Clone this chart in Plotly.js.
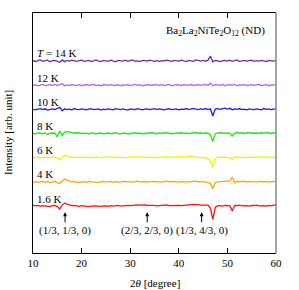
<!DOCTYPE html>
<html>
<head>
<meta charset="utf-8">
<script src="https://cdn.plot.ly/plotly-3.0.1.min.js"></script>
<style>html,body{margin:0;padding:0;background:#fff}#chart{width:299px;height:290px}</style>
</head>
<body>
<div id="chart"></div>
<script>
// 2theta grid (degrees), 0.5 deg step from 10 to 60
const twoTheta = [10,10.5,11,11.5,12,12.5,13,13.5,14,14.5,15,15.5,16,16.5,17,17.5,18,18.5,19,19.5,20,20.5,21,21.5,22,22.5,23,23.5,24,24.5,25,25.5,26,26.5,27,27.5,28,28.5,29,29.5,30,30.5,31,31.5,32,32.5,33,33.5,34,34.5,35,35.5,36,36.5,37,37.5,38,38.5,39,39.5,40,40.5,41,41.5,42,42.5,43,43.5,44,44.5,45,45.5,46,46.5,47,47.5,48,48.5,49,49.5,50,50.5,51,51.5,52,52.5,53,53.5,54,54.5,55,55.5,56,56.5,57,57.5,58,58.5,59,59.5,60];

const labels = ["<i>T</i> = 14 K","12 K","10 K","8 K","6 K","4 K","1.6 K"];
const offsets = [6,5,4,3,2,1,0];
const colors = ["#6a2ca8","#b060e8","#1f1fe0","#1ee81e","#f2f200","#ffa500","#ff1010"];

// intensity deviations (hundredths of the stacking offset)
const i14K = [2,-3,1,4,-2,0,3,-4,1,2, -2,-6,4,-3,2,-1,3,0,-2,1, 3,-2,0,2,-3,1,4,-1,-3,2, 0,-2,3,1,-4,2,0,-1,3,-2, 1,4,-2,0,-3,2,1,-1,3,0, -2,2,-3,1,0,3,-1,-2,2,1, -1,3,0,-3,2,1,-2,4,0,-1, 2,-2,3,20,-4,2,0,-3,1,2, -1,3,-2,0,4,-3,1,2,-1,0, 3,-2,1,-1,2,0,-3,2,1,-1, 2];
const i12K = [-1,2,-3,1,3,-2,0,2,-1,3, -2,2,6,-3,1,-2,3,0,-1,2, -3,1,2,-1,0,3,-2,1,-3,2, 1,-1,3,-2,0,2,-3,1,0,2, -2,1,3,-1,2,-3,0,2,1,-2, 3,0,-1,2,-2,1,3,-3,0,2, 1,-2,2,0,-1,3,-2,1,2,-1, 0,3,-2,8,-3,2,1,-1,3,-2, 0,2,-1,3,-3,1,0,2,-2,1, 2,-1,0,3,-2,1,2,-3,1,0, 3];
const i10K = [0,-2,1,3,-1,2,-3,0,2,-1, 3,8,-6,2,-1,1,-2,3,0,-1, 2,0,-2,1,3,-1,0,2,-3,1, -1,2,0,-2,3,1,-1,2,0,-3, 2,1,-1,3,0,-2,1,2,-1,0, 3,-1,2,0,-2,1,3,-1,0,2, -2,1,0,3,-1,2,4,1,-1,2, 0,3,-1,2,-28,1,3,0,2,5, 1,4,-2,2,0,3,-1,1,-2,2, 0,-1,2,1,-2,3,0,2,-1,1, 2];
const i8K = [1,-2,3,0,-1,2,-3,1,0,2, -14,10,-8,6,8,5,4,2,3,1, 2,0,1,-2,2,0,-1,1,2,-1, 0,2,-1,1,3,0,-2,1,0,2, -1,1,3,0,2,-1,1,0,2,3, 1,-1,2,0,3,1,2,0,-1,2, 1,3,0,2,-1,2,3,4,1,2, 0,2,1,-4,-33,0,2,3,1,2, 3,1,-10,2,4,1,3,0,2,4, 1,3,2,0,3,1,4,2,0,3, 2];
const i6K = [2,0,3,-1,2,1,-2,0,3,1, -2,-8,2,10,6,3,1,2,-1,2, 0,3,1,-1,2,0,3,1,-1,2, 1,0,2,3,-1,2,1,0,2,-1, 3,1,2,4,3,1,2,0,3,1, 2,0,1,3,2,4,1,2,3,1, 2,4,1,3,2,5,3,1,2,0, 1,-2,-4,-12,-40,-4,2,1,3,2, 1,0,-6,2,3,1,2,0,1,3, 2,0,3,1,2,4,1,3,0,2, 3];
const i4K = [-1,1,-2,0,2,-1,1,-3,0,2, -4,-6,3,12,6,2,0,1,-1,-3, 0,1,-2,2,0,-1,1,-2,0,2, -1,0,2,-2,1,0,-1,2,1,0, 2,-1,1,3,0,2,1,0,-1,2, 1,0,2,-1,1,3,0,1,2,-1, 0,2,1,-1,0,2,1,3,0,1, -1,0,-3,-6,-28,-3,0,1,2,0, 1,4,20,-4,2,0,1,3,-1,2, 0,1,-1,2,0,1,2,-1,1,0, 2];
const i1p6K = [4,1,3,-1,2,0,1,-2,2,3, -2,-12,4,12,8,4,2,3,1,-1, 2,0,1,-2,0,2,1,-1,0,2, 1,-1,2,0,1,3,0,2,1,3, 2,4,3,5,4,6,5,3,4,2, 3,1,2,4,3,5,2,3,1,2, 3,2,4,3,5,6,7,5,6,4, 5,3,4,-8,-55,-5,1,2,0,3, 2,1,-20,3,2,4,1,3,2,0, 3,2,4,1,3,2,0,3,1,2, 6];
const series = [i14K,i12K,i10K,i8K,i6K,i4K,i1p6K];

// reflection markers
const peakPos = [16.6, 33.5, 44.7];
const peakLabels = ["(1/3, 1/3, 0)", "(2/3, 2/3, 0)", "(1/3, 4/3, 0)"];

const FONT = "Liberation Serif, Times New Roman, serif";

const traces = series.map((dev, k) => ({
  x: twoTheta,
  y: dev.map(v => offsets[k] + v / 100),
  type: "scatter",
  mode: "lines",
  line: {color: colors[k], width: 1.3},
  hoverinfo: "skip",
  showlegend: false
}));

const annotations = [];
labels.forEach((t, k) => {
  annotations.push({
    x: 10, y: offsets[k] + 0.31, xref: "x", yref: "y",
    xanchor: "left", yanchor: "middle", xshift: 2,
    text: t, showarrow: false,
    font: {family: FONT, size: 11, color: "#000"}
  });
});
peakPos.forEach((p, k) => {
  annotations.push({
    x: p, y: -0.26, xref: "x", yref: "y",
    text: peakLabels[k], showarrow: true,
    ax: 0, ay: 18, arrowhead: 2, arrowsize: 0.8, arrowwidth: 1, arrowcolor: "#000",
    standoff: 0, startstandoff: 0,
    font: {family: FONT, size: 11, color: "#000"}
  });
});
annotations.push({
  x: 0.75, y: 1 - (31 - 13) / 240, xref: "paper", yref: "paper",
  text: "Ba<sub>2</sub>La<sub>2</sub>NiTe<sub>2</sub>O<sub>12</sub> (ND)",
  showarrow: false, xanchor: "center", yanchor: "middle",
  font: {family: FONT, size: 11, color: "#000"}
});
annotations.push({
  x: 0.5, y: 0, xref: "paper", yref: "paper", yshift: -30, yanchor: "middle",
  text: "2<i>θ</i> [degree]", showarrow: false,
  font: {family: FONT, size: 11, color: "#000"}
});
annotations.push({
  x: 0, y: 0.5, xref: "paper", yref: "paper", xshift: -25, xanchor: "center", yanchor: "middle",
  text: "Intensity [arb. unit]", textangle: -90, showarrow: false,
  font: {family: FONT, size: 11, color: "#000"}
});

const layout = {
  width: 299, height: 290,
  margin: {l: 33, r: 23, t: 13, b: 37},
  paper_bgcolor: "#fff", plot_bgcolor: "#fff",
  font: {family: FONT, size: 11, color: "#000"},
  xaxis: {
    range: [10, 60], dtick: 10, tick0: 10,
    ticks: "inside", ticklen: 5, tickwidth: 1, tickcolor: "#000",
    showline: true, linecolor: "#000", linewidth: 1, mirror: "ticks",
    showgrid: false, zeroline: false,
    tickfont: {family: FONT, size: 11, color: "#000"}
  },
  yaxis: {
    range: [-1.94, 7.98],
    showticklabels: false, ticks: "",
    showline: true, linecolor: "#000", linewidth: 1, mirror: false,
    showgrid: false, zeroline: false
  },
  shapes: [{
    type: "line", xref: "paper", yref: "paper", x0: 1, x1: 1, y0: 0, y1: 1,
    line: {color: "#8a8a8a", width: 1.5}
  }],
  annotations: annotations
};

Plotly.newPlot("chart", traces, layout, {staticPlot: true, displayModeBar: false});
</script>
</body>
</html>
